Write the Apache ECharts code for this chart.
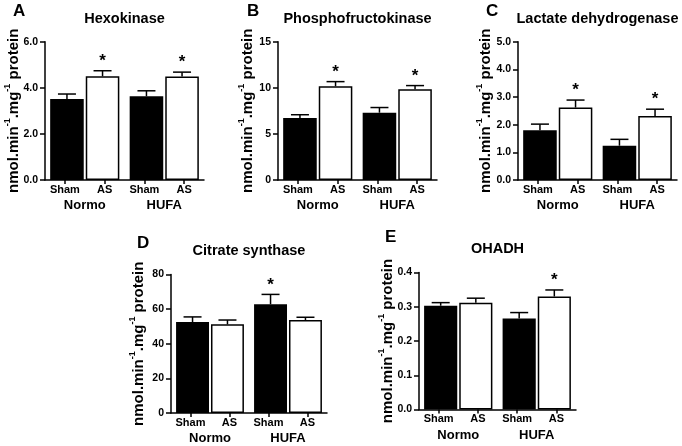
<!DOCTYPE html>
<html><head><meta charset="utf-8">
<script src="https://cdn.jsdelivr.net/npm/echarts@6/dist/echarts.min.js"></script>
<style>html,body{margin:0;padding:0;background:#fff}#c{width:682px;height:446px}</style>
</head><body><div id="c"></div>
<script>
// ---------- data ----------
const groups = ['Normo', 'HUFA'];
const conditions = ['Sham', 'AS', 'Sham', 'AS'];
// value order: Sham-Normo, AS-Normo, Sham-HUFA, AS-HUFA
const hexokinaseMean = [3.51, 4.50, 3.63, 4.49];
const hexokinaseSEM  = [0.22, 0.24, 0.24, 0.19];
const hexokinaseSig  = [0, 1, 0, 1];
const hexokinaseTicks = [0, 2, 4, 6];

const pfkMean = [6.73, 10.17, 7.30, 9.85];
const pfkSEM  = [0.35, 0.50, 0.56, 0.39];
const pfkSig  = [0, 1, 0, 1];
const pfkTicks = [0, 5, 10, 15];

const ldhMean = [1.80, 2.62, 1.24, 2.31];
const ldhSEM  = [0.22, 0.27, 0.23, 0.25];
const ldhSig  = [0, 1, 0, 1];
const ldhTicks = [0, 1, 2, 3, 4, 5];

const csMean = [52.5, 51.2, 62.8, 53.7];
const csSEM  = [3.0, 2.5, 5.7, 1.6];
const csSig  = [0, 0, 1, 0];
const csTicks = [0, 20, 40, 60, 80];

const ohadhMean = [0.303, 0.312, 0.266, 0.330];
const ohadhSEM  = [0.009, 0.013, 0.017, 0.019];
const ohadhSig  = [0, 0, 0, 1];
const ohadhTicks = [0, 0.1, 0.2, 0.3, 0.4];

const panelLetters = ['A', 'B', 'C', 'D', 'E'];
const panelTitles = ['Hexokinase', 'Phosphofructokinase', 'Lactate dehydrogenase', 'Citrate synthase', 'OHADH'];
const yLabel = '{a|nmol.min}{s|-1}{a|.mg}{s|-1}{a| protein}';

// ---------- layout ----------
const FONT = '"Liberation Sans", Arial, sans-serif';
const CAT_GAP = 0.13, BAR_GAP = 0.06;
const panels = [
  {mean: hexokinaseMean, sem: hexokinaseSEM, sig: hexokinaseSig, ticks: hexokinaseTicks, dec: 1,
   grid: {left: 45, top: 41.7, width: 159, height: 138.3}, letter: [13, 2.5], titleY: 11.5, nameGap: 24},
  {mean: pfkMean, sem: pfkSEM, sig: pfkSig, ticks: pfkTicks, dec: 0,
   grid: {left: 278, top: 41.7, width: 159, height: 138.3}, letter: [247, 2.5], titleY: 11.5, nameGap: 23},
  {mean: ldhMean, sem: ldhSEM, sig: ldhSig, ticks: ldhTicks, dec: 1,
   grid: {left: 518, top: 41.7, width: 159, height: 138.3}, letter: [486, 2.5], titleY: 11.5, nameGap: 25},
  {mean: csMean, sem: csSEM, sig: csSig, ticks: csTicks, dec: 0,
   grid: {left: 171, top: 274.5, width: 156, height: 138.5}, letter: [137, 235], titleY: 243.5, nameGap: 25},
  {mean: ohadhMean, sem: ohadhSEM, sig: ohadhSig, ticks: ohadhTicks, dec: 1,
   grid: {left: 419, top: 272.5, width: 157, height: 137}, letter: [385, 229], titleY: 241.5, nameGap: 24}
];

function errRender(params, api) {
  const cat = api.value(0), mean = api.value(1), sem = api.value(2), sig = api.value(3), side = api.value(4);
  const catW = api.size([1, 0])[0];
  const bw = catW * (1 - CAT_GAP) / (2 + BAR_GAP);
  const off = (bw * (1 + BAR_GAP) / 2) * (side ? 1 : -1);
  const p0 = api.coord([cat, mean]);
  const p1 = api.coord([cat, mean + sem]);
  const x = p0[0] + off;
  const st = {stroke: '#000', lineWidth: 1.5};
  const ch = [
    {type: 'line', shape: {x1: x, y1: p0[1], x2: x, y2: p1[1]}, style: st},
    {type: 'line', shape: {x1: x - 9, y1: p1[1], x2: x + 9, y2: p1[1]}, style: st}
  ];
  if (sig) ch.push({type: 'text', style: {text: '*', x: x, y: p1[1] - 1, align: 'center', verticalAlign: 'bottom',
    fill: '#000', font: 'bold 17px ' + FONT}});
  return {type: 'group', children: ch};
}

const option = {animation: false, backgroundColor: '#fff', title: [], grid: [], xAxis: [], yAxis: [], series: []};

panels.forEach((p, i) => {
  option.grid.push(Object.assign({containLabel: false}, p.grid));
  const axisLine = {show: true, lineStyle: {color: '#000', width: 1.5}};
  option.xAxis.push({
    type: 'category', gridIndex: i, data: groups, position: 'bottom',
    axisLine: axisLine, axisTick: {show: false},
    axisLabel: {color: '#000', fontFamily: FONT, fontWeight: 'bold', fontSize: 13, margin: 19, interval: 0}
  });
  option.xAxis.push({
    type: 'category', gridIndex: i, data: conditions, position: 'bottom',
    axisLine: {show: false},
    axisTick: {show: true, alignWithLabel: true, length: 4, interval: 0, lineStyle: {color: '#000', width: 1.5}},
    axisLabel: {color: '#000', fontFamily: FONT, fontWeight: 'bold', fontSize: 11, margin: 4, interval: 0,
      hideOverlap: false}
  });
  const t = p.ticks;
  option.yAxis.push({
    type: 'value', gridIndex: i, min: t[0], max: t[t.length - 1], interval: t[1] - t[0],
    axisLine: axisLine,
    axisTick: {show: true, length: 5, lineStyle: {color: '#000', width: 1.5}},
    splitLine: {show: false},
    axisLabel: {color: '#000', fontFamily: FONT, fontWeight: 'bold', fontSize: 10.5, margin: 7,
      formatter: v => v.toFixed(p.dec)},
    name: yLabel, nameLocation: 'middle', nameRotate: 90, nameGap: p.nameGap, nameMoveOverlap: false,
    nameTextStyle: {rich: {
      a: {fontFamily: FONT, fontWeight: 'bold', fontSize: 15, color: '#000', lineHeight: 18, verticalAlign: 'bottom'},
      s: {fontFamily: FONT, fontWeight: 'bold', fontSize: 9, color: '#000', lineHeight: 10, verticalAlign: 'top'}
    }}
  });
  const xi = i * 2;
  option.series.push({
    type: 'bar', xAxisIndex: xi, yAxisIndex: i, data: [p.mean[0], p.mean[2]],
    barGap: (BAR_GAP * 100) + '%', barCategoryGap: (CAT_GAP * 100) + '%',
    itemStyle: {color: '#000'}
  });
  option.series.push({
    type: 'bar', xAxisIndex: xi, yAxisIndex: i, data: [p.mean[1], p.mean[3]],
    barGap: (BAR_GAP * 100) + '%', barCategoryGap: (CAT_GAP * 100) + '%',
    itemStyle: {color: '#fff', borderColor: '#000', borderWidth: 1.5}
  });
  const errData = p.mean.map((m, k) => [Math.floor(k / 2), m, p.sem[k], p.sig[k], k % 2]);
  option.series.push({
    type: 'custom', xAxisIndex: xi, yAxisIndex: i, data: errData, renderItem: errRender,
    encode: {x: 0, y: 1}, z: 5, clip: false
  });
  const g = p.grid;
  option.title.push({
    text: panelTitles[i], left: g.left + g.width / 2, top: p.titleY, textAlign: 'center', padding: 0,
    textStyle: {fontFamily: FONT, fontWeight: 'bold', fontSize: 14.5, color: '#000'}
  });
  option.title.push({
    text: panelLetters[i], left: p.letter[0], top: p.letter[1], padding: 0,
    textStyle: {fontFamily: FONT, fontWeight: 'bold', fontSize: 17, color: '#000'}
  });
});

const chart = echarts.init(document.getElementById('c'), null, {renderer: 'canvas'});
chart.setOption(option);
</script>
</body></html>
